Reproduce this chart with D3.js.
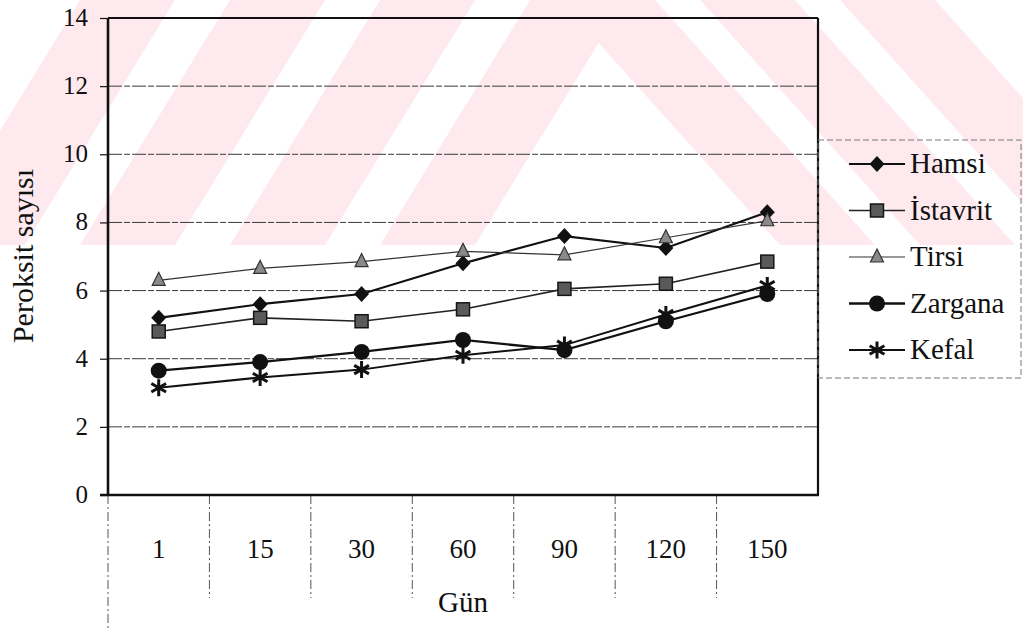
<!DOCTYPE html>
<html><head><meta charset="utf-8"><script src="https://cdn.jsdelivr.net/npm/d3@7"></script></head>
<body style="margin:0">
<svg id="s" width="1023" height="631"></svg>
<script>
// ---- data ----
const categories = ["1", "15", "30", "60", "90", "120", "150"];
const seriesNames = ["Hamsi", "İstavrit", "Tirsi", "Zargana", "Kefal"];
const hamsi    = [5.2, 5.6, 5.9, 6.8, 7.6, 7.25, 8.3];
const istavrit = [4.8, 5.2, 5.1, 5.45, 6.05, 6.2, 6.85];
const tirsi    = [6.3, 6.65, 6.85, 7.15, 7.05, 7.55, 8.05];
const zargana  = [3.65, 3.9, 4.2, 4.55, 4.25, 5.1, 5.9];
const kefal    = [3.15, 3.45, 3.68, 4.1, 4.4, 5.3, 6.15];
const yTicks   = [0, 2, 4, 6, 8, 10, 12, 14];
const yTitle = "Peroksit sayısı";
const xTitle = "Gün";

const seriesValues = [hamsi, istavrit, tirsi, zargana, kefal];

const svg = d3.select("#s");
const W = 1023, H = 631;
const L = 108, R = 818, T = 18, B = 495;

function addText(parent, str, px, py, size, anchor) {
  return parent.append("text")
    .attr("x", px).attr("y", py)
    .attr("text-anchor", anchor)
    .attr("font-size", size)
    .attr("fill", "#111")
    .style("font-family", `"Liberation Serif"`)
    .text(str);
}

// ---- faint watermark in background ----
const pink = "#feeaee";
const defs = svg.append("defs");
defs.append("clipPath").attr("id", "wmclip").append("rect")
  .attr("x", 0).attr("y", 0).attr("width", W).attr("height", 245);
const wmg = svg.append("g").attr("clip-path", "url(#wmclip)");
[-70, 80, 230, 380].forEach(x0 => {
  wmg.append("polygon").attr("fill", pink)
    .attr("points", `${x0},245 ${x0 + 95},245 ${x0 + 95 + 150},0 ${x0 + 150},0`);
});
[560, 700, 840].forEach(x0 => {
  wmg.append("polygon").attr("fill", pink)
    .attr("points", `${x0},0 ${x0 + 95},0 ${x0 + 95 + 220},245 ${x0 + 220},245`);
});

// ---- scales ----
const x = d3.scaleBand().domain(categories).range([L, R]);
const y = d3.scaleLinear().domain([0, 14]).range([B, T]);
const cx = d => x(d) + x.bandwidth() / 2;

// ---- gridlines ----
svg.append("g").selectAll("line").data(yTicks.filter(v => v > 0 && v < 14)).join("line")
  .attr("x1", L).attr("x2", R)
  .attr("y1", d => y(d)).attr("y2", d => y(d))
  .attr("stroke", "#3a3a3a").attr("stroke-width", 1)
  .attr("stroke-dasharray", "14,2,6,2");

// ---- y axis ----
const yAxis = d3.axisLeft(y).tickValues(yTicks).tickSize(8).tickFormat(() => "");
const yg = svg.append("g").attr("transform", `translate(${L},0)`).call(yAxis);
yg.select(".domain").remove();
yg.selectAll(".tick text").remove();
yg.selectAll(".tick line").attr("stroke", "#111").attr("stroke-width", 1.2);
const yl = svg.append("g");
yTicks.forEach(v => addText(yl, d3.format("d")(v), L - 20, y(v) + 8, 25, "end"));

// ---- category separators below axis ----
const bounds = categories.map(c => x(c));
svg.append("g").selectAll("line").data(bounds).join("line")
  .attr("x1", d => d).attr("x2", d => d)
  .attr("y1", B).attr("y2", (d, i) => i === 0 ? H : 598)
  .attr("stroke", "#555").attr("stroke-width", 1)
  .attr("stroke-dasharray", "9,3,2,3");

const xl = svg.append("g");
categories.forEach(c => addText(xl, c, cx(c), 558, 27, "middle"));

// ---- plot border ----
svg.append("line").attr("x1", L).attr("x2", R).attr("y1", T).attr("y2", T).attr("stroke", "#111").attr("stroke-width", 2);
svg.append("line").attr("x1", R).attr("x2", R).attr("y1", T).attr("y2", B).attr("stroke", "#111").attr("stroke-width", 2.2);
svg.append("line").attr("x1", L).attr("x2", L).attr("y1", T).attr("y2", B).attr("stroke", "#111").attr("stroke-width", 2.6);
svg.append("line").attr("x1", L - 8).attr("x2", R + 1).attr("y1", B).attr("y2", B).attr("stroke", "#111").attr("stroke-width", 2.6);

// ---- titles ----
addText(svg, xTitle, 463, 612, 29, "middle");
addText(svg, yTitle, 0, 0, 30, "middle").attr("transform", "translate(33,256) rotate(-90)");

// ---- markers ----
function drawMarker(g, type, px, py) {
  if (type === 0) {
    g.append("path").attr("d", `M${px},${py - 8}L${px + 7.5},${py}L${px},${py + 8}L${px - 7.5},${py}Z`).attr("fill", "#111");
  } else if (type === 1) {
    g.append("rect").attr("x", px - 6.5).attr("y", py - 6.5).attr("width", 13).attr("height", 13)
      .attr("fill", "#5a5a5a").attr("stroke", "#151515").attr("stroke-width", 1.5);
  } else if (type === 2) {
    g.append("path").attr("d", `M${px},${py - 8}L${px + 6.5},${py + 5}L${px - 6.5},${py + 5}Z`)
      .attr("fill", "#8a8a8a").attr("stroke", "#333").attr("stroke-width", 1.2);
  } else if (type === 3) {
    g.append("circle").attr("cx", px).attr("cy", py).attr("r", 8).attr("fill", "#111");
  } else {
    const r = 8.5;
    const p = [];
    for (let k = 0; k < 3; k++) {
      const a = Math.PI / 2 + k * Math.PI / 3;
      p.push(`M${px - r * Math.cos(a)},${py - r * Math.sin(a)}L${px + r * Math.cos(a)},${py + r * Math.sin(a)}`);
    }
    g.append("path").attr("d", p.join("")).attr("stroke", "#111").attr("stroke-width", 3).attr("fill", "none");
  }
}
const lineW = [2.2, 1.6, 1.2, 2.3, 2.0];
const lineC = ["#111", "#222", "#333", "#111", "#111"];

const line = d3.line().x(d => cx(d.c)).y(d => y(d.v));
seriesValues.forEach((vals, s) => {
  const pts = vals.map((v, i) => ({ c: categories[i], v }));
  svg.append("path").datum(pts).attr("d", line)
    .attr("fill", "none").attr("stroke", lineC[s]).attr("stroke-width", lineW[s]);
});
seriesValues.forEach((vals, s) => {
  const g = svg.append("g");
  vals.forEach((v, i) => drawMarker(g, s, cx(categories[i]), y(v)));
});

// ---- legend ----
const lg = svg.append("g");
lg.append("rect").attr("x", R).attr("y", 140).attr("width", 203).attr("height", 238)
  .attr("fill", "none").attr("stroke", "#777").attr("stroke-width", 1).attr("stroke-dasharray", "6,3");
seriesNames.forEach((name, s) => {
  const ly = 164 + s * 46.5;
  lg.append("line").attr("x1", 849).attr("x2", 905).attr("y1", ly).attr("y2", ly)
    .attr("stroke", lineC[s]).attr("stroke-width", lineW[s]);
  drawMarker(lg, s, 877, ly);
  addText(lg, name, 910, ly + 9, 29, "start");
});
</script>
</body></html>
